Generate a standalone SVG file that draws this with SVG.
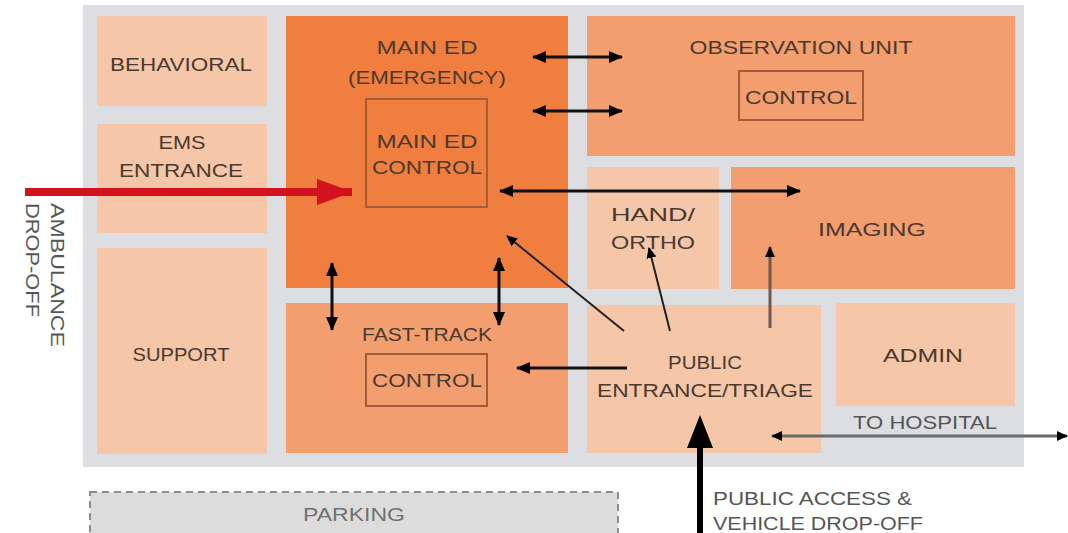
<svg xmlns="http://www.w3.org/2000/svg" width="1068" height="533" viewBox="0 0 1068 533">
<defs>
<style>
.bg{fill:#dcdee1}
.dk{fill:#f07e3e}
.md{fill:#f29e6f}
.lt{fill:#f6c6a8}
.ctl{fill:none;stroke:#a65b38;stroke-width:2}
.t{font-family:"Liberation Sans",Arial,sans-serif;font-size:19px;fill:#4a392e;text-anchor:middle}
.g{fill:#555}
.ln{stroke:#111;stroke-width:3;fill:none}
.thin{stroke:#222;stroke-width:2;fill:none}
</style>
<marker id="ah" viewBox="0 0 14 12" refX="13" refY="6" markerWidth="14" markerHeight="12" markerUnits="userSpaceOnUse" orient="auto-start-reverse"><path d="M0,0 L14,6 L0,12 z" fill="#000"/></marker>
<marker id="ahs" viewBox="0 0 11 10" refX="10" refY="5" markerWidth="11" markerHeight="10" markerUnits="userSpaceOnUse" orient="auto-start-reverse"><path d="M0,0 L11,5 L0,10 z" fill="#000"/></marker>
<marker id="ahr" viewBox="0 0 36 26" refX="35" refY="13" markerWidth="36" markerHeight="26" markerUnits="userSpaceOnUse" orient="auto"><path d="M0,0 L36,13 L0,26 z" fill="#d3121f"/></marker>
</defs>
<rect class="bg" x="83" y="5" width="941" height="462"/>
<g id="parking">
<rect x="90" y="492" width="528" height="50" fill="#dcdcdc" stroke="#8c8c8c" stroke-width="2" stroke-dasharray="7 5"/>
<text class="t" x="354" y="521" textLength="102" lengthAdjust="spacingAndGlyphs" style="fill:#707070">PARKING</text>
</g>
<g id="behavioral"><rect class="lt" x="97" y="16" width="170" height="90"/><text class="t" x="181" y="71" textLength="142" lengthAdjust="spacingAndGlyphs">BEHAVIORAL</text></g>
<g id="ems"><rect class="lt" x="97" y="124" width="170" height="109"/><text class="t" x="182" y="149" textLength="47" lengthAdjust="spacingAndGlyphs">EMS</text><text class="t" x="181" y="177" textLength="124" lengthAdjust="spacingAndGlyphs">ENTRANCE</text></g>
<g id="support"><rect class="lt" x="97" y="248" width="170" height="206"/><text class="t" x="181" y="361" textLength="97" lengthAdjust="spacingAndGlyphs">SUPPORT</text></g>
<g id="main-ed"><rect class="dk" x="286" y="16" width="282" height="272"/><text class="t" x="427" y="54" textLength="101" lengthAdjust="spacingAndGlyphs">MAIN ED</text><text class="t" x="427" y="84" textLength="158" lengthAdjust="spacingAndGlyphs">(EMERGENCY)</text>
<rect class="ctl" x="366" y="99" width="121" height="108"/><text class="t" x="427" y="148" textLength="101" lengthAdjust="spacingAndGlyphs">MAIN ED</text><text class="t" x="427" y="174" textLength="110" lengthAdjust="spacingAndGlyphs">CONTROL</text></g>
<g id="fast-track"><rect class="md" x="286" y="303" width="282" height="150"/><text class="t" x="427" y="341" textLength="130" lengthAdjust="spacingAndGlyphs">FAST-TRACK</text>
<rect class="ctl" x="366" y="354" width="121" height="52"/><text class="t" x="427" y="387" textLength="110" lengthAdjust="spacingAndGlyphs">CONTROL</text></g>
<g id="observation"><rect class="md" x="587" y="16" width="428" height="140"/><text class="t" x="801" y="54" textLength="223" lengthAdjust="spacingAndGlyphs">OBSERVATION UNIT</text>
<rect class="ctl" x="739" y="71" width="124" height="49"/><text class="t" x="801" y="104" textLength="112" lengthAdjust="spacingAndGlyphs">CONTROL</text></g>
<g id="hand-ortho"><rect class="lt" x="587" y="167" width="132" height="122"/><text class="t" x="653" y="221" textLength="84" lengthAdjust="spacingAndGlyphs">HAND/</text><text class="t" x="653" y="249" textLength="84" lengthAdjust="spacingAndGlyphs">ORTHO</text></g>
<g id="imaging"><rect class="md" x="731" y="167" width="284" height="122"/><text class="t" x="872" y="236" textLength="108" lengthAdjust="spacingAndGlyphs">IMAGING</text></g>
<g id="triage"><rect class="lt" x="587" y="305" width="234" height="148"/><text class="t" x="705" y="369" textLength="74" lengthAdjust="spacingAndGlyphs">PUBLIC</text><text class="t" x="705" y="397" textLength="216" lengthAdjust="spacingAndGlyphs">ENTRANCE/TRIAGE</text></g>
<g id="admin"><rect class="lt" x="836" y="303" width="179" height="103"/><text class="t" x="923" y="362" textLength="80" lengthAdjust="spacingAndGlyphs">ADMIN</text></g>
<g id="labels">
<text class="t g" x="925" y="429" textLength="144" lengthAdjust="spacingAndGlyphs">TO HOSPITAL</text>
<text class="t g" x="713" y="505" style="text-anchor:start" textLength="199" lengthAdjust="spacingAndGlyphs">PUBLIC ACCESS &amp;</text>
<text class="t g" x="713" y="530" style="text-anchor:start" textLength="210" lengthAdjust="spacingAndGlyphs">VEHICLE DROP-OFF</text>
<text class="t g" transform="translate(51,203) rotate(90)" x="0" y="0" style="text-anchor:start" textLength="144" lengthAdjust="spacingAndGlyphs">AMBULANCE</text>
<text class="t g" transform="translate(26,203) rotate(90)" x="0" y="0" style="text-anchor:start" textLength="114" lengthAdjust="spacingAndGlyphs">DROP-OFF</text>
</g>
<g id="connectors">
<line x1="25" y1="192" x2="352" y2="192" stroke="#d3121f" stroke-width="8" marker-end="url(#ahr)"/>
<line class="ln" x1="533" y1="57" x2="622" y2="57" marker-start="url(#ah)" marker-end="url(#ah)"/>
<line class="ln" x1="533" y1="111" x2="622" y2="111" marker-start="url(#ah)" marker-end="url(#ah)"/>
<line class="ln" x1="500" y1="191" x2="800" y2="191" marker-start="url(#ah)" marker-end="url(#ah)"/>
<line class="ln" x1="332" y1="263" x2="332" y2="330" marker-start="url(#ah)" marker-end="url(#ah)"/>
<line class="ln" x1="499" y1="258" x2="499" y2="325" marker-start="url(#ah)" marker-end="url(#ah)"/>
<line class="thin" x1="624" y1="331" x2="507" y2="236" marker-end="url(#ahs)"/>
<line class="thin" x1="670" y1="331" x2="649" y2="248" marker-end="url(#ahs)"/>
<line x1="770" y1="328" x2="770" y2="247" stroke="#6e5a50" stroke-width="3" marker-end="url(#ahs)"/>
<line class="ln" x1="627" y1="368" x2="517" y2="368" marker-end="url(#ah)"/>
<line x1="772" y1="436" x2="1067" y2="436" stroke="#6b6b6b" stroke-width="3" marker-start="url(#ahs)" marker-end="url(#ahs)"/>
<line x1="700" y1="540" x2="700" y2="440" stroke="#000" stroke-width="6"/>
<path d="M700,415 L713,448 L687,448 z" fill="#000"/>
</g>
</svg>
